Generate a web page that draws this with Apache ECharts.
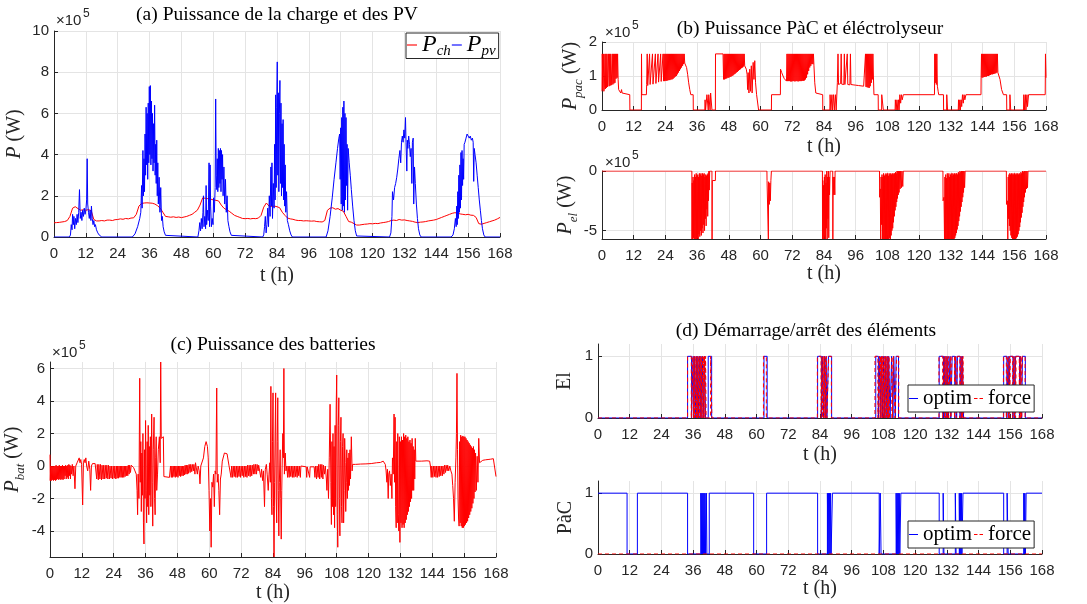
<!DOCTYPE html>
<html><head><meta charset="utf-8">
<script src="https://cdn.jsdelivr.net/npm/echarts@6/dist/echarts.min.js"></script>
<style>html,body{margin:0;padding:0;background:#fff}#c{width:1087px;height:604px}</style>
</head><body><div id="c"></div><script>
// ---------- DATA ----------
const xTicks = [0,12,24,36,48,60,72,84,96,108,120,132,144,156,168];
const yTicksA = [0,2,4,6,8,10];
const yTicksPac = [0,1,2];
const yTicksEl = [-5,0];
const yTicksBat = [-4,-2,0,2,4,6];
const yTicksState = [0,1];
// (a) load power, hourly t = 0..168 (x1e5 W)
const pchHourly = [0.69,0.70,0.71,0.73,0.75,0.80,1.0,1.40,1.47,1.38,1.30,1.32,1.30,1.33,1.28,0.85,0.78,0.78,0.80,0.78,0.82,0.82,0.80,0.84,
0.85,0.88,0.86,0.90,0.88,0.92,0.93,1.1,1.5,1.63,1.65,1.66,1.65,1.64,1.60,1.52,1.40,1.20,1.0,0.98,0.96,0.98,0.95,0.97,
0.94,0.97,1.0,1.05,1.10,1.20,1.30,1.55,1.90,1.88,1.86,1.84,1.80,1.78,1.75,1.55,1.40,1.32,1.25,1.15,1.05,1.0,0.95,0.90,
0.89,0.90,0.88,0.90,0.89,0.92,1.05,1.45,1.65,1.50,1.48,1.50,1.47,1.42,1.20,1.05,0.92,0.88,0.86,0.82,0.80,0.80,0.78,0.79,
0.78,0.77,0.78,0.75,0.74,0.73,0.80,1.30,1.40,1.42,1.35,1.38,1.30,1.25,1.0,0.75,0.72,0.65,0.58,0.58,0.60,0.62,0.63,0.65,
0.64,0.66,0.65,0.68,0.70,0.72,0.75,0.80,0.82,0.80,0.85,0.82,0.83,0.80,0.78,0.76,0.72,0.70,0.72,0.73,0.75,0.78,0.80,0.82,
0.85,0.90,0.95,1.0,1.05,1.10,1.15,1.18,1.16,1.12,1.10,1.08,1.10,1.06,1.05,0.95,0.65,0.62,0.66,0.70,0.74,0.78,0.82,0.88,0.95];
// (a) PV power [t, x1e5 W]
const ppv = [[0,0],[5.8,0],[6.2,0.1],[6.5,0.6],[6.8,0.35],[7.0,1.1],[7.3,0.6],[7.5,1.0],[7.8,0.4],[8.1,0.9],[8.4,0.6],[8.7,1.1],[9.0,0.7],[9.3,1.2],[9.6,2.3],[9.9,0.9],[10.2,1.2],[10.5,0.8],[10.8,1.3],[11.1,1.0],[11.4,1.4],[11.7,1.1],[12.0,1.3],[12.3,1.8],[12.5,3.8],[12.7,1.6],[13.0,1.2],[13.3,0.9],[13.6,1.3],[13.9,0.8],[14.1,1.5],[14.4,0.9],[14.7,0.6],[15.0,0.8],[15.3,0.5],[15.6,0.6],[16.0,0.35],[16.5,0.2],[17.0,0.1],[17.5,0.03],[18,0],
[29.5,0],[30.5,0.15],[31.5,0.5],[32.3,0.9],[32.7,1.2],[33.0,2.5],[33.2,1.4],[33.5,4.2],[33.7,2.0],[33.9,3.8],[34.1,2.2],[34.3,5.0],[34.5,3.0],[34.7,6.3],[34.9,3.5],[35.1,6.0],[35.3,2.8],[35.5,6.5],[35.7,3.6],[35.9,7.3],[36.1,4.0],[36.3,7.35],[36.5,3.5],[36.7,6.6],[36.9,3.8],[37.1,6.0],[37.3,3.2],[37.5,5.5],[37.7,3.6],[37.9,6.4],[38.1,3.0],[38.3,4.5],[38.5,2.6],[38.7,4.7],[38.9,2.0],[39.1,3.6],[39.3,1.6],[39.6,2.9],[39.9,1.2],[40.2,2.4],[40.5,0.8],[40.8,1.0],[41.1,0.5],[41.5,0.25],[42.0,0.08],[42.5,0],
[54.2,0],[54.6,0.3],[54.9,0.7],[55.2,0.3],[55.5,0.9],[55.8,0.4],[56.1,1.2],[56.3,2.0],[56.5,0.5],[56.8,1.0],[57.1,0.4],[57.3,2.5],[57.5,0.6],[57.8,1.3],[58.1,0.8],[58.4,3.6],[58.6,0.5],[58.8,3.5],[59.0,1.5],[59.3,0.5],[59.6,0.9],[59.9,0.6],[60.1,1.9],[60.4,1.2],[60.7,2.4],[60.9,6.7],[61.1,3.0],[61.3,2.3],[61.5,3.8],[61.7,2.2],[61.9,4.3],[62.1,2.4],[62.3,4.2],[62.5,2.6],[62.7,4.3],[62.9,2.2],[63.1,4.2],[63.3,2.8],[63.5,4.0],[63.7,2.0],[64.0,3.4],[64.3,1.6],[64.6,2.8],[64.9,1.2],[65.2,2.0],[65.5,0.8],[65.9,0.5],[66.3,0.25],[66.8,0.08],[67.3,0],
[78.6,0],[79.0,0.1],[79.3,0.5],[79.6,1.0],[79.9,0.2],[80.2,0.6],[80.5,1.4],[80.8,0.5],[81.1,2.0],[81.4,1.0],[81.7,3.4],[81.9,1.5],[82.1,3.6],[82.3,0.9],[82.6,2.6],[82.9,1.4],[83.1,4.5],[83.3,1.8],[83.5,6.9],[83.7,2.4],[83.9,6.3],[84.1,8.5],[84.3,3.0],[84.5,7.0],[84.7,2.2],[84.9,6.0],[85.1,7.6],[85.3,2.6],[85.5,6.5],[85.7,2.0],[85.9,5.5],[86.1,2.4],[86.3,5.7],[86.5,1.8],[86.7,4.5],[86.9,1.5],[87.1,3.5],[87.3,1.2],[87.6,2.2],[87.9,0.8],[88.3,0.6],[88.8,0.3],[89.3,0.1],[89.8,0],
[102.5,0],[103.2,0.3],[104.0,1.0],[104.8,1.9],[105.5,2.8],[106.2,3.6],[106.8,4.3],[107.3,4.8],[107.6,5.0],[107.8,2.8],[108.0,5.3],[108.2,1.6],[108.4,5.8],[108.6,1.3],[108.8,6.3],[109.0,1.5],[109.2,6.6],[109.4,1.2],[109.6,6.0],[109.8,1.8],[110.0,5.8],[110.2,2.5],[110.4,4.5],[110.6,1.3],[110.8,4.3],[111.2,3.6],[111.6,3.0],[112.0,2.3],[112.5,1.5],[113.0,0.8],[113.5,0.3],[114.0,0.05],[114.4,0],
[126.4,0],[126.9,0.2],[127.3,1.0],[127.5,2.2],[127.9,1.8],[128.3,2.4],[128.7,2.6],[129.1,2.9],[129.5,3.3],[129.9,3.8],[130.3,4.2],[130.6,3.6],[130.9,4.6],[131.2,4.9],[131.5,4.6],[131.8,5.2],[132.1,4.8],[132.4,5.8],[132.6,4.6],[132.9,3.2],[133.1,4.7],[133.3,4.3],[133.6,4.9],[133.9,4.5],[134.2,3.9],[134.5,4.3],[134.8,2.6],[135.0,4.6],[135.3,4.8],[135.5,1.6],[135.8,3.4],[136.1,2.6],[136.5,1.6],[136.9,0.9],[137.3,0.4],[137.8,0.1],[138.3,0],
[149.6,0],[150.3,0.1],[150.8,0.4],[151.2,0.9],[151.5,0.5],[151.7,1.5],[151.9,0.6],[152.1,2.2],[152.3,0.9],[152.5,3.0],[152.7,1.2],[152.9,3.5],[153.1,1.4],[153.3,4.1],[153.5,1.8],[153.7,4.2],[153.9,2.5],[154.1,3.8],[154.3,2.8],[154.5,4.5],[154.8,4.6],[155.2,4.8],[155.6,5.0],[156.0,4.9],[156.4,4.8],[156.8,4.9],[157.2,4.7],[157.6,4.8],[157.9,4.6],[158.1,2.7],[158.3,4.3],[158.6,4.0],[159.0,3.6],[159.4,3.0],[159.8,2.4],[160.2,1.8],[160.6,1.3],[161.0,0.8],[161.4,0.4],[161.9,0.1],[162.4,0],[168,0]];
// (b) fuel-cell power [t, x1e5 W]
const ppac = [[0,0.55],[0.1,1.65],[0.3,0.6],[0.5,1.65],[0.7,0.55],[0.9,0.65],[1.1,1.65],[1.3,0.62],[1.5,1.65],[1.7,0.65],[1.9,1.65],[2.1,0.68],[2.3,0.7],[2.5,1.65],[2.7,0.7],[2.9,1.65],[3.1,0.72],[3.3,1.65],[3.5,0.73],[3.7,0.74],[3.9,1.65],[4.1,0.75],[4.3,1.65],[4.5,0.78],[4.7,1.65],[4.9,0.8],[5.1,1.65],[5.3,0.92],[5.5,1.65],[5.7,0.95],[5.9,1.65],[6.1,0.9],[6.3,0.6],[6.6,0.55],[6.9,0.62],[7.1,0.5],[7.4,0.6],[7.6,0.5],[7.9,0.45],[10.5,0.45],[10.55,0],[14.9,0],[14.95,1.65],[15.05,0.45],[16.8,0.45],
[16.9,0.75],[17.1,1.65],[17.3,0.72],[17.8,0.75],[18.0,1.65],[18.2,0.75],[18.9,0.78],[19.1,1.65],[19.3,0.76],[20.0,0.8],[20.2,1.65],[20.4,0.78],[21.0,0.8],[21.2,1.65],[21.4,0.82],[22.0,0.8],[22.2,1.65],[22.4,0.84],[22.9,0.85],[23.1,1.65],[23.3,0.85],[23.5,1.65],[23.7,0.85],[23.9,1.65],[24.1,0.86],[24.3,1.65],[24.5,0.86],[24.7,1.65],[24.9,0.87],[25.1,1.65],[25.3,0.88],[25.5,1.65],[25.7,0.88],[25.9,1.65],[26.1,0.9],[26.3,1.65],[26.5,0.9],[26.7,1.65],[26.9,0.92],[27.1,1.65],[27.3,0.95],[27.5,1.65],[27.7,0.98],[27.9,1.65],[28.1,1.0],[28.3,1.65],[28.5,1.05],[28.7,1.65],[28.9,1.1],[29.1,1.65],[29.3,1.15],[29.5,1.65],[29.7,1.2],[29.9,1.65],[30.1,1.25],[30.3,1.65],[30.5,1.3],[30.7,1.65],[30.9,1.35],[31.1,1.65],[31.3,1.38],[31.6,1.4],[32.0,1.25],[32.4,1.05],[32.8,0.8],[33.2,0.6],[33.6,0.45],[34.5,0.45],[34.55,0],[38.9,0],[39.0,0.3],[39.2,0],[39.6,0],[39.7,0.45],[40.0,0.5],[40.2,0],[40.4,0.45],[40.7,0.5],[40.9,0],[41.1,0.5],[41.4,0.45],[41.6,0],[42.9,0],[42.95,1.65],[45.8,1.65],
[46.0,0.9],[46.2,1.65],[46.4,0.9],[46.6,1.65],[46.8,0.92],[47.0,1.65],[47.2,0.93],[47.4,1.65],[47.6,0.95],[47.8,1.65],[48.0,0.95],[48.2,1.65],[48.4,0.97],[48.6,1.65],[48.8,0.98],[49.0,1.65],[49.2,1.0],[49.4,1.65],[49.6,1.02],[49.8,1.65],[50.0,1.05],[50.2,1.65],[50.4,1.07],[50.6,1.65],[50.8,1.1],[51.0,1.65],[51.2,1.12],[51.4,1.65],[51.6,1.15],[51.8,1.65],[52.0,1.18],[52.2,1.65],[52.4,1.2],[52.6,1.65],[52.8,1.23],[53.0,1.65],[53.2,1.25],[53.4,1.65],[53.6,1.28],[53.8,1.65],[54.0,1.3],[54.3,1.3],[54.6,1.2],[54.9,1.05],[55.1,0.6],[55.3,1.1],[55.6,0.5],[55.9,1.2],[56.2,0.55],[56.5,1.3],[56.8,0.5],[57.2,1.4],[57.5,0.9],[57.8,1.45],[58.1,0.8],[58.5,0.45],[59.2,0.45],[59.25,0],[64.1,0],[64.15,0.45],[67.5,0.45],[67.55,1.2],[68.0,1.1],[68.5,1.0],[69.0,0.92],[69.5,0.87],[69.8,0.85],
[70.0,1.65],[70.2,0.85],[70.4,1.65],[70.6,0.85],[70.8,1.65],[71.0,0.85],[71.2,1.65],[71.4,0.84],[71.6,1.65],[71.8,0.84],[72.0,1.65],[72.2,0.85],[72.4,1.65],[72.6,0.85],[72.8,1.65],[73.0,0.84],[73.2,1.65],[73.4,0.85],[73.6,1.65],[73.8,0.85],[74.0,1.65],[74.2,0.84],[74.4,1.65],[74.6,0.85],[74.8,1.65],[75.0,0.85],[75.2,1.65],[75.4,0.85],[75.6,1.65],[75.8,0.86],[76.0,1.65],[76.2,0.86],[76.4,1.65],[76.6,0.87],[76.8,1.65],[77.0,0.9],[77.2,1.65],[77.4,0.95],[77.6,1.65],[77.8,1.05],[78.0,1.65],[78.2,1.15],[78.4,1.65],[78.6,1.25],[78.8,1.65],[79.0,1.3],[79.2,1.65],[79.4,1.35],[79.6,1.65],[79.8,1.35],[80.0,1.65],[80.2,1.3],[80.5,0.8],[80.9,0.5],[81.2,0.45],[83.5,0.45],[83.55,0],[86.2,0],[86.3,0.45],[86.6,0],[87.0,0.45],[87.2,0],[87.6,0.45],[87.9,0],[88.3,0.45],[88.6,0],[89.0,0],
[89.05,0.8],[89.3,1.65],[89.5,0.75],[90.3,0.78],[90.5,1.65],[90.7,0.76],[91.5,0.75],[91.7,1.65],[91.9,0.75],[92.6,0.76],[92.8,1.65],[93.0,0.75],[93.8,0.74],[94.0,1.65],[94.2,0.75],[95.0,0.74],[96.0,0.73],[97.0,0.72],[98.0,0.71],[99.0,0.7],[99.5,0.68],[99.7,1.65],[99.9,0.68],[100.1,1.65],[100.3,0.67],[100.5,1.65],[100.7,0.66],[100.9,1.65],[101.1,0.65],[101.3,1.65],[101.5,0.7],[101.7,1.65],[101.9,0.8],[102.1,1.65],[102.3,0.9],[102.5,1.65],[102.7,1.0],[102.9,0.45],[104.5,0.45],[104.55,0],[105.8,0],[105.85,0.45],[106.4,0.45],[106.45,0],[110.9,0],[111.0,0.3],[111.3,0],[111.6,0.3],[111.9,0],[112.2,0.3],[112.4,0],[112.7,0.45],[113.0,0.2],[113.3,0.45],[113.6,0.3],[114.0,0.45],[125.8,0.45],
[125.9,1.65],[126.1,0.8],[126.3,1.65],[126.5,0.75],[126.7,1.65],[126.9,0.7],[127.2,0.55],[127.4,0.45],[129.2,0.45],[129.25,0],[130.4,0],[130.45,0.45],[130.7,0.45],[130.75,0],[134.8,0],[134.9,0.3],[135.1,0],[135.4,0.3],[135.6,0],[135.9,0.3],[136.1,0.1],[136.4,0.45],[136.7,0.2],[137.0,0.45],[137.3,0.3],[137.7,0.45],[143.4,0.45],
[143.45,0.95],[143.6,1.65],[143.8,0.95],[144.0,1.65],[144.2,0.96],[144.4,1.65],[144.6,0.97],[144.8,1.65],[145.0,0.98],[145.2,1.65],[145.4,0.98],[145.6,1.65],[145.8,1.0],[146.0,1.65],[146.2,1.0],[146.4,1.65],[146.6,1.02],[146.8,1.65],[147.0,1.03],[147.2,1.65],[147.4,1.05],[147.6,1.65],[147.8,1.05],[148.0,1.65],[148.2,1.06],[148.4,1.65],[148.6,1.07],[148.8,1.65],[149.0,1.08],[149.2,1.65],[149.4,1.1],[149.6,1.65],[149.8,1.1],[150.2,1.1],[150.6,0.9],[151.2,0.6],[151.9,0.45],[153.1,0.45],[153.15,0],[154.3,0],[154.35,0.45],[154.6,0.45],[154.65,0],[159.5,0],[159.6,0.45],[159.8,0],[160.2,0.45],[160.4,0],[160.8,0.45],[161.0,0.1],[161.4,0.45],[161.8,0.45],[167.7,0.45],[167.8,1.65],[168,0.95]];
// (b) electrolyser power [t, x1e5 W]
const pel = [[0,0],[34.0,0],[34.05,-5.7],[34.15,-1.0],[34.3,-5.7],[34.45,-0.5],[34.6,-5.6],[34.75,-0.8],[34.9,-5.7],[35.05,-0.3],[35.2,-5.7],[35.35,-0.5],[35.5,-5.7],[35.65,-0.2],[35.8,-5.7],[35.95,-0.4],[36.1,-5.6],[36.25,-0.3],[36.4,-5.7],[36.55,-0.5],[36.7,-5.3],[36.85,-0.2],[37.0,-5.5],[37.15,-0.3],[37.3,-5.0],[37.45,-0.2],[37.6,-5.4],[37.75,-0.4],[37.9,-4.8],[38.05,-0.2],[38.2,-5.2],[38.35,-0.3],[38.5,-4.5],[38.65,-0.2],[38.8,-5.0],[38.95,-0.5],[39.1,-4.0],[39.25,-0.3],[39.4,-4.6],[39.55,-0.4],[39.7,-3.2],[39.85,-0.3],[40.0,-3.8],[40.15,-0.2],[40.3,-2.5],[40.45,0],[40.6,-1.6],[40.75,0],[41.6,0],[41.65,-5.7],[41.75,-0.8],[42.9,-0.8],[42.95,0],
[62.4,0],[62.45,-0.8],[62.9,-0.8],[62.95,-5.7],[63.05,-0.9],[63.3,-2.8],[63.5,-1.0],[63.7,-2.5],[63.9,-0.8],[64.1,0],
[83.4,0],[83.45,-5.7],[83.55,-0.8],[83.7,-5.7],[83.85,-1.2],[84.0,-5.7],[84.15,-0.5],[84.3,-5.5],[84.45,-0.3],[84.6,-5.7],[84.75,-1.0],[84.9,-4.8],[85.05,0],[85.2,-5.7],[85.35,-0.5],[85.5,-4.0],[85.65,0],[85.8,-5.6],[85.95,-0.5],[86.1,-2.0],[86.3,0],[87.3,0],[87.35,-5.7],[87.45,-0.5],[87.7,-2.0],[87.9,-0.5],[88.1,-2.0],[88.2,0],
[105.0,0],[105.05,-2.2],[105.3,-1.5],[105.45,-5.7],[105.6,-0.5],[105.8,-4.5],[105.95,-0.3],[106.1,-5.7],[106.25,-0.5],[106.4,-5.7],[106.55,-0.2],[106.7,-5.7],[106.85,-0.4],[107.0,-5.7],[107.15,-0.3],[107.3,-5.7],[107.45,-0.2],[107.6,-5.7],[107.75,-0.3],[107.9,-5.7],[108.05,-0.2],[108.2,-5.7],[108.35,-0.4],[108.5,-5.7],[108.65,-0.2],[108.8,-5.6],[108.95,-0.3],[109.1,-5.7],[109.25,-0.2],[109.4,-5.4],[109.55,-0.3],[109.7,-5.0],[109.85,-0.2],[110.0,-4.8],[110.15,-0.3],[110.3,-4.3],[110.45,-0.2],[110.6,-3.8],[110.75,-0.2],[110.9,-3.3],[111.05,-0.1],[111.2,-3.0],[111.35,-0.2],[111.5,-2.6],[111.65,0],[111.8,-2.3],[111.95,0],[112.1,-2.0],[112.25,0],[112.4,-1.8],[112.55,0],[112.8,-1.5],[113.0,0],[113.3,-1.4],[113.5,0],[113.8,-1.3],[114.0,0],
[129.0,0],[129.05,-2.5],[129.4,-2.2],[129.6,-5.7],[129.75,-0.5],[129.9,-5.7],[130.05,-0.3],[130.2,-5.7],[130.35,-0.6],[130.5,-5.7],[130.65,-0.2],[130.8,-5.7],[130.95,-0.4],[131.1,-5.7],[131.25,-0.2],[131.4,-5.7],[131.55,-0.5],[131.7,-5.7],[131.85,-0.3],[132.0,-5.7],[132.15,-0.2],[132.3,-5.7],[132.45,-0.4],[132.6,-5.7],[132.75,-0.2],[132.9,-5.7],[133.05,-0.3],[133.2,-5.7],[133.35,-0.2],[133.5,-5.6],[133.65,-0.3],[133.8,-5.4],[133.95,-0.2],[134.1,-5.2],[134.25,-0.2],[134.4,-4.9],[134.55,-0.3],[134.7,-4.6],[134.85,-0.1],[135.0,-4.2],[135.15,-0.2],[135.3,-3.8],[135.45,0],[135.6,-3.4],[135.75,-0.1],[135.9,-3.0],[136.05,0],[136.2,-2.6],[136.35,0],[136.5,-2.2],[136.65,0],[136.8,-1.8],[137.0,0],[137.2,-1.4],[137.4,0],
[153.0,0],[153.05,-2.8],[153.4,-2.5],[153.55,-5.7],[153.7,-0.5],[153.85,-4.0],[154.0,-0.3],[154.15,-4.6],[154.3,-0.2],[154.45,-5.0],[154.6,-0.3],[154.75,-5.4],[154.9,-0.2],[155.05,-5.6],[155.2,-0.3],[155.35,-5.7],[155.5,-0.2],[155.65,-5.7],[155.8,-0.3],[155.95,-5.7],[156.1,-0.2],[156.25,-5.7],[156.4,-0.3],[156.55,-5.7],[156.7,-0.2],[156.85,-5.6],[157.0,-0.3],[157.15,-5.5],[157.3,-0.2],[157.45,-5.3],[157.6,-0.3],[157.75,-5.0],[157.9,-0.2],[158.05,-4.7],[158.2,-0.3],[158.35,-4.3],[158.5,-0.1],[158.65,-3.9],[158.8,-0.2],[158.95,-3.5],[159.1,0],[159.25,-3.0],[159.4,-0.1],[159.55,-2.6],[159.7,0],[159.85,-2.2],[160.0,0],[160.2,-1.8],[160.4,0],[160.6,-1.5],[160.8,0],[161.0,-1.4],[161.2,0],[168,0]];
// (c) battery power [t, x1e5 W]
const pbat = [[0,0.7],[0.1,-0.9],[0.3,0],[0.5,-0.9],[0.7,0],[0.9,-0.85],[1.1,0],[1.3,-0.9],[1.5,0],[1.7,-0.85],[1.9,0],[2.1,-0.9],[2.3,0.05],[2.5,-0.85],[2.7,0],[2.9,-0.8],[3.1,0],[3.3,-0.85],[3.5,0.05],[3.7,-0.8],[3.9,0],[4.1,-0.85],[4.3,0],[4.5,-0.8],[4.7,0.05],[4.9,-0.85],[5.1,0],[5.3,-0.8],[5.5,0],[5.7,-0.6],[5.9,0.05],[6.1,-0.8],[6.3,0],[6.5,-0.7],[6.7,0.05],[6.9,-0.8],[7.1,0.1],[7.3,-0.6],[7.5,0.05],[7.7,-0.8],[7.9,0],[8.1,-0.5],[8.4,0.1],[8.7,-0.6],[9.0,0],[9.4,-1.4],[9.7,0],[10.2,0.2],[10.6,0.3],[11.0,0.5],[11.3,0.2],[11.6,0.4],[11.9,0.1],[12.3,-2.4],[12.6,0.2],[12.9,0.4],[13.2,0.2],[13.5,0.5],[13.8,0],[14.2,-0.3],[14.6,0.3],[15.0,-0.2],[15.3,-1.5],[15.6,0],[16.0,0.15],[16.5,0.1],[17.0,0.15],[17.4,0.1],[17.6,-0.8],[17.8,0.1],[18.2,-0.85],[18.4,0.1],[18.8,-0.8],[19.0,0.1],[19.4,-0.85],[19.6,0.05],[20.0,-0.8],[20.2,0.05],[20.6,-0.8],[20.8,0.05],[21.2,-0.75],[21.4,0.05],[21.8,-0.8],[22.0,0.05],[22.4,-0.8],[22.6,0],[23.0,-0.75],[23.2,0],[23.6,-0.8],[23.8,0],[24.2,-0.75],[24.4,0],[24.8,-0.8],[25.0,0],[25.3,-0.75],[25.5,0],[25.8,-0.75],[26.0,0],[26.3,-0.7],[26.5,0],[26.8,-0.7],[27.0,0],[27.3,-0.7],[27.5,0],[27.8,-0.7],[28.0,0],[28.3,-0.65],[28.5,0],[28.8,-0.6],[29.0,0],[29.3,-0.6],[29.5,0.05],[29.8,-0.5],[30.0,0.05],[30.3,-0.4],[30.6,0.05],[31.0,0],[31.5,-0.1],[32.0,-0.3],[32.5,-0.5],[32.8,-1.5],[33.0,-3.0],[33.2,-0.5],[33.5,-2.0],[33.8,5.4],[34.0,-1.0],[34.2,1.5],[34.4,-2.8],[34.6,0.8],[34.8,-1.8],[35.0,2.0],[35.2,-3.5],[35.4,-4.8],[35.6,1.0],[35.8,-2.0],[36.0,2.8],[36.2,-1.5],[36.4,-3.5],[36.6,1.5],[36.8,-2.5],[37.0,2.5],[37.2,-3.0],[37.4,1.2],[37.6,-1.8],[37.8,1.8],[38.0,-2.5],[38.3,3.2],[38.5,-1.0],[38.7,-3.7],[38.9,1.0],[39.2,3.0],[39.4,-2.0],[39.6,-3.0],[39.8,0.5],[40.0,1.8],[40.2,-1.5],[40.5,-0.5],[40.8,1.0],[41.2,1.8],[41.5,0.2],[41.7,6.4],[41.9,1.7],[42.3,1.7],[42.7,1.8],[42.9,-0.65],[45.0,-0.7],[45.4,0],
[45.7,-0.7],[45.9,0],[46.2,-0.7],[46.4,0],[46.7,-0.65],[46.9,0],[47.2,-0.7],[47.4,0],[47.7,-0.65],[47.9,0],[48.2,-0.7],[48.4,0],[48.7,-0.6],[48.9,0],[49.2,-0.65],[49.4,0],[49.7,-0.6],[49.9,0],[50.2,-0.6],[50.4,0],[50.7,-0.55],[50.9,0.05],[51.2,-0.5],[51.4,0.05],[51.7,-0.5],[51.9,0.05],[52.2,-0.45],[52.4,0.1],[52.8,-0.4],[53.0,0.1],[53.4,-0.35],[53.6,0.1],[54.0,-0.3],[54.2,0.1],[54.6,-0.5],[54.8,0.2],[55.2,0.1],[55.5,-0.5],[55.8,0],[56.2,-0.3],[56.5,-1.1],[56.8,0],[57.3,0.1],[57.8,0.5],[58.3,1.2],[58.8,1.5],[59.3,1.2],[59.6,0.5],[59.9,-1.5],[60.2,-4.0],[60.5,-2.0],[60.7,-5.0],[61.0,-1.0],[61.3,-1.3],[61.6,-0.5],[61.9,-2.5],[62.2,-0.3],[62.5,-0.5],[62.8,4.8],[63.0,-1.0],[63.3,-0.5],[63.6,-1.5],[63.9,-3.0],[64.2,-0.8],[64.5,-0.5],[64.9,0.3],[65.3,0.2],[65.7,0.8],[66.2,0.8],[66.7,0.75],[67.1,0.7],[67.4,0.05],[67.8,0],
[68.2,-0.7],[68.4,0],[68.8,-0.7],[69.0,0],[69.4,-0.65],[69.6,0],[70.0,-0.7],[70.2,0],[70.6,-0.7],[70.8,0],[71.2,-0.65],[71.4,0],[71.8,-0.7],[72.0,0],[72.4,-0.6],[72.6,0],[73.0,-0.7],[73.2,0],[73.6,-0.65],[73.8,0],[74.2,-0.7],[74.4,0.05],[74.8,-0.6],[75.0,0.05],[75.4,-0.65],[75.6,0.05],[76.0,-0.6],[76.2,0.05],[76.6,-0.5],[76.8,0.1],[77.2,-0.5],[77.4,0.1],[77.8,-0.5],[78.0,0.1],[78.4,-0.3],[78.6,0.05],[79.0,0],[79.4,-0.7],[79.7,-0.2],[80.1,-0.9],[80.4,-0.3],[80.8,-2.5],[81.1,-0.2],[81.5,0.1],[81.8,-0.5],[82.2,-1.5],[82.5,-0.5],[82.8,0.2],[83.0,-1.0],[83.2,4.9],[83.4,-2.0],[83.6,-3.0],[83.8,1.5],[84.0,4.5],[84.2,-2.5],[84.4,-5.6],[84.6,-1.0],[84.8,2.0],[85.0,4.5],[85.2,-2.0],[85.4,-3.5],[85.6,1.5],[85.8,4.2],[86.0,-1.5],[86.2,-4.3],[86.4,-1.0],[86.7,1.0],[86.9,-2.0],[87.1,-4.5],[87.3,-1.5],[87.5,0.5],[87.7,2.0],[87.9,0.5],[88.1,6.0],[88.3,-0.5],[88.6,0.8],[88.9,-0.3],[89.2,0],
[89.5,-0.7],[89.7,0],[90.1,-0.7],[90.3,0],[90.7,-0.65],[90.9,0],[91.3,-0.7],[91.5,0],[91.9,-0.7],[92.1,0],[92.5,-0.65],[92.7,0],[93.1,-0.7],[93.3,0],[93.7,-0.6],[93.9,0],[94.3,-0.7],[94.5,0],[95.0,-0.05],[96.5,-0.05],[96.7,-0.7],[96.9,-0.05],[97.8,-0.7],[98.0,-0.05],[99.5,-0.05],[99.8,-0.7],[100.0,0],[100.4,-0.8],[100.6,0],[101.0,-0.7],[101.2,0.1],[101.6,-0.8],[101.8,0.1],[102.2,-0.7],[102.4,0.1],[102.8,-0.8],[103.0,0.05],[103.4,-0.5],[103.7,0],[104.1,-0.8],
[104.3,-1.5],[104.6,-0.2],[104.9,-2.0],[105.2,0.5],[105.5,3.8],[105.8,-1.0],[106.0,-3.6],[106.2,1.5],[106.4,-2.5],[106.6,2.0],[106.8,-3.0],[107.0,1.2],[107.2,-3.8],[107.4,2.5],[107.6,-2.5],[107.8,3.5],[108.0,5.6],[108.2,-3.0],[108.4,-5.0],[108.6,2.5],[108.8,4.2],[109.0,-2.0],[109.2,-4.3],[109.4,1.5],[109.6,3.0],[109.8,-2.5],[110.0,-3.5],[110.2,1.2],[110.4,2.0],[110.6,-3.5],[110.8,-1.5],[111.0,1.7],[111.2,0.2],[111.4,-2.8],[111.6,-1.0],[111.8,1.0],[112.0,-2.0],[112.2,0.5],[112.4,-1.5],[112.6,0.8],[112.8,-1.2],[113.0,1.0],[113.2,-0.8],[113.5,1.8],[113.8,-0.3],[114.0,0.1],
[115,0.1],[117,0.12],[119,0.13],[121,0.15],[123,0.2],[124.5,0.22],[125.5,0.3],[126.0,0.25],[126.3,0.1],[126.6,-0.3],[126.9,-1.0],[127.1,-0.2],[127.4,-2.0],[127.6,-0.5],[127.9,-0.3],[128.2,-1.2],[128.5,-0.5],[128.8,-2.0],[129.0,0.5],[129.3,-0.5],[129.6,3.2],[129.8,-1.0],[130.0,3.0],[130.2,-2.5],[130.4,-3.8],[130.6,1.5],[130.8,-3.5],[131.0,2.0],[131.2,-3.0],[131.4,-4.0],[131.6,1.8],[131.8,-4.7],[132.0,1.5],[132.2,-3.5],[132.4,1.8],[132.6,-3.8],[132.8,1.6],[133.0,-3.6],[133.2,2.0],[133.4,-3.8],[133.6,1.8],[133.8,-3.5],[134.0,1.9],[134.2,-3.3],[134.4,1.7],[134.6,-3.0],[134.8,1.8],[135.0,-2.8],[135.2,1.5],[135.4,-2.5],[135.6,1.6],[135.8,-2.2],[136.0,1.4],[136.2,-2.0],[136.4,1.7],[136.6,-1.5],[136.8,1.2],[137.0,-1.5],[137.2,1.0],[137.4,-0.8],[137.6,1.7],[137.8,0.3],[138.2,0.3],[140,0.3],[142,0.32],[143.0,0.3],[143.3,0],
[143.6,-0.7],[143.8,0],[144.2,-0.7],[144.4,0],[144.8,-0.65],[145.0,0],[145.4,-0.7],[145.6,0],[146.0,-0.7],[146.2,0],[146.6,-0.65],[146.8,0],[147.2,-0.6],[147.4,0],[147.8,-0.6],[148.0,0],[148.4,-0.5],[148.6,0.05],[149.0,-0.4],[149.2,0.05],[149.6,-0.3],[149.8,0.05],[150.2,-0.3],[150.6,0],[151.0,-0.3],[151.4,-0.5],[151.7,-1.2],[152.0,-2.0],[152.3,-3.4],[152.6,-1.0],[152.9,0.5],[153.1,2.0],[153.3,5.7],[153.5,1.0],[153.7,-2.0],[153.9,-3.2],[154.1,-3.7],[154.3,1.5],[154.5,-3.5],[154.7,1.9],[154.9,-3.7],[155.1,1.8],[155.3,-3.8],[155.5,1.85],[155.7,-3.8],[155.9,1.8],[156.1,-3.7],[156.3,1.8],[156.5,-3.6],[156.7,1.7],[156.9,-3.5],[157.1,1.6],[157.3,-3.4],[157.5,1.5],[157.7,-3.2],[157.9,1.4],[158.1,-3.0],[158.3,1.3],[158.5,-2.8],[158.7,1.2],[158.9,-2.6],[159.1,1.1],[159.3,-2.3],[159.5,1.2],[159.7,-2.0],[159.9,1.0],[160.1,-1.6],[160.3,0.8],[160.6,-1.5],[160.9,0.6],[161.2,-1.0],[161.5,1.7],[161.8,0.2],[162.1,0.3],[163,0.35],[164,0.38],[165,0.4],[166,0.42],[167,0.45],[167.6,0.4],[168,-0.65]];
// (d) on/off states (value held until next point)
const elOptim = [[0,0],[33.9,1],[35.4,0],[36.0,1],[36.3,0],[36.6,1],[37.0,0],[37.3,1],[37.5,0],[37.8,1],[38.1,0],[38.4,1],[38.7,0],[39.0,1],[39.3,0],[39.6,1],[40.0,0],[40.3,1],[40.7,0],[41.7,1],[43.0,0],[62.8,1],[64.0,0],[83.1,1],[84.6,0],[85.0,1],[85.3,0],[85.7,1],[86.0,0],[86.3,1],[86.6,0],[87.2,1],[88.4,0],[105.1,1],[106.1,0],[106.7,1],[107.0,0],[107.4,1],[107.7,0],[108.1,1],[108.3,0],[108.7,1],[109.0,0],[109.4,1],[109.7,0],[110.0,1],[110.5,0],[111.1,1],[111.6,0],[111.9,1],[112.5,0],[112.8,1],[113.7,0],[129.1,1],[130.7,0],[131.0,1],[131.3,0],[131.7,1],[132.0,0],[132.4,1],[132.6,0],[133.2,1],[133.5,0],[134.0,1],[135.0,0],[135.4,1],[135.7,0],[136.0,1],[137.0,0],[137.4,1],[137.6,0],[137.9,1],[138.3,0],[153.5,1],[154.7,0],[155.2,1],[155.5,0],[155.8,1],[157.0,0],[157.4,1],[157.7,0],[158.0,1],[159.5,0],[159.8,1],[160.3,0],[160.6,1],[161.7,0],[168,0]];
const elForce = [[0,0],[33.9,1],[35.3,0],[35.9,1],[36.1,0],[36.3,1],[36.5,0],[36.7,1],[36.9,0],[37.1,1],[37.3,0],[37.5,1],[37.7,0],[37.9,1],[38.1,0],[38.3,1],[38.5,0],[38.7,1],[38.9,0],[39.1,1],[39.3,0],[39.5,1],[39.7,0],[39.9,1],[40.1,0],[40.3,1],[40.5,0],[40.7,1],[40.9,0],[42.6,1],[43.1,0],[62.6,1],[63.7,0],[83.0,1],[84.4,0],[84.8,1],[85.0,0],[85.2,1],[85.4,0],[85.6,1],[85.8,0],[86.0,1],[86.2,0],[86.4,1],[86.6,0],[87.3,1],[88.3,0],[104.8,1],[105.9,0],[106.5,1],[106.7,0],[106.9,1],[107.1,0],[107.3,1],[107.5,0],[107.7,1],[107.9,0],[108.1,1],[108.3,0],[108.5,1],[108.7,0],[108.9,1],[109.1,0],[109.3,1],[109.5,0],[109.7,1],[109.9,0],[110.1,1],[110.3,0],[111.2,1],[111.4,0],[111.8,1],[112.4,0],[113.0,1],[113.8,0],[129.0,1],[130.4,0],[130.9,1],[131.1,0],[131.3,1],[131.5,0],[131.7,1],[131.9,0],[132.1,1],[132.3,0],[132.5,1],[132.7,0],[133.3,1],[133.5,0],[133.9,1],[134.9,0],[135.3,1],[135.5,0],[136.0,1],[136.9,0],[137.3,1],[137.5,0],[137.7,1],[137.9,0],[138.1,1],[138.4,0],[153.4,1],[154.5,0],[155.1,1],[155.3,0],[155.6,1],[155.8,0],[156.0,1],[156.9,0],[157.3,1],[157.5,0],[157.8,1],[158.0,0],[158.2,1],[159.4,0],[159.7,1],[159.9,0],[160.1,1],[160.3,0],[160.5,1],[161.6,0],[168,0]];
const pacOptim = [[0,1],[11.0,0],[14.9,1],[33.9,0],[38.9,1],[39.1,0],[39.3,1],[39.5,0],[39.7,1],[39.9,0],[40.1,1],[40.3,0],[40.5,1],[40.7,0],[41.0,1],[41.2,0],[42.1,1],[58.9,0],[63.8,1],[83.1,0],[86.8,1],[87.0,0],[87.2,1],[87.4,0],[87.6,1],[87.8,0],[88.0,1],[88.2,0],[88.7,1],[106.4,0],[106.8,1],[107.1,0],[112.8,1],[113.0,0],[113.2,1],[113.4,0],[113.6,1],[113.8,0],[114.0,1],[114.2,0],[114.6,1],[129.1,0],[130.6,1],[130.9,0],[135.2,1],[135.5,0],[136.7,1],[136.9,0],[137.1,1],[137.3,0],[137.5,1],[137.7,0],[138.1,1],[153.5,0],[154.8,1],[155.2,0],[161.1,1],[161.3,0],[161.5,1],[161.7,0],[162.0,1],[168,1]];
const pacForce = [[0,0],[168,0]];

// ---------- CHART ----------
const AX = '#262626', GRIDC = '#e4e4e4', RED = '#ff0000', BLUE = '#0000ff';
const SERIF = '"Liberation Serif","DejaVu Serif",serif';
const SANS = '"Liberation Sans",Arial,sans-serif';
const grids = [
  {left:54, top:31, width:446, height:206},
  {left:602, top:42, width:444, height:68},
  {left:602, top:171, width:444, height:68},
  {left:50, top:362, width:446, height:195},
  {left:598, top:344, width:444, height:74},
  {left:598, top:481, width:444, height:73}
].map(g => Object.assign({containLabel:false, outerBoundsMode:'none', show:false}, g));

function xAx(g, nameGap) {
  return {type:'value', gridIndex:g, min:0, max:168, interval:12,
    name:'t (h)', nameLocation:'middle', nameGap:nameGap,
    nameTextStyle:{fontFamily:SERIF, fontSize:20, color:AX},
    axisLine:{show:true, onZero:false, lineStyle:{color:AX, width:1}},
    axisTick:{show:true, inside:true, length:4, lineStyle:{color:AX}, customValues:xTicks},
    axisLabel:{fontFamily:SANS, fontSize:15, color:AX, margin:9, hideOverlap:false, customValues:xTicks},
    splitLine:{show:true, lineStyle:{color:GRIDC, width:1}}};
}
const richName = {
  i:{fontFamily:SERIF, fontStyle:'italic', fontSize:20, color:AX, lineHeight:28},
  s:{fontFamily:SERIF, fontStyle:'italic', fontSize:13, color:AX, verticalAlign:'bottom', lineHeight:28},
  n:{fontFamily:SERIF, fontSize:20, color:AX, lineHeight:28}
};
function yAx(g, min, max, ticks, name, nameGap) {
  return {type:'value', gridIndex:g, min:min, max:max,
    name:name, nameLocation:'middle', nameGap:nameGap, nameRotate:90,
    nameTextStyle:{fontFamily:SERIF, fontSize:20, color:AX, lineHeight:28, rich:richName},
    axisLine:{show:true, onZero:false, lineStyle:{color:AX, width:1}},
    axisTick:{show:true, inside:true, length:4, lineStyle:{color:AX}, customValues:ticks},
    axisLabel:{fontFamily:SANS, fontSize:15, color:AX, margin:5, hideOverlap:false, customValues:ticks},
    splitLine:{show:true, lineStyle:{color:GRIDC, width:1}}};
}
function ln(name, data, xi, color, extra) {
  return Object.assign({type:'line', name:name, data:data, xAxisIndex:xi, yAxisIndex:xi,
    showSymbol:false, symbol:'none', animation:false,
    lineStyle:{color:color, width:1}, itemStyle:{color:color}}, extra || {});
}
function expo(x, y) {
  return [
    {type:'text', x:x, y:y, style:{text:'×10', font:'15px '+SANS, fill:AX, verticalAlign:'middle', align:'left'}},
    {type:'text', x:x+27, y:y-7, style:{text:'5', font:'12px '+SANS, fill:AX, verticalAlign:'middle', align:'left'}}
  ];
}
function ttl(text, x, y) {
  return {type:'text', x:x, y:y, style:{text:text, font:'19.5px '+SERIF, fill:'#000', align:'center', verticalAlign:'middle'}};
}
const legRich = {
  i:{fontFamily:SERIF, fontStyle:'italic', fontSize:24, color:'#000', lineHeight:27},
  s:{fontFamily:SERIF, fontStyle:'italic', fontSize:15, color:'#000', verticalAlign:'bottom', lineHeight:27}
};
const SOLID_ICON = 'path://M0,0h9v1h-9z';
const DASH_ICON = 'path://M0,0h3.5v1h-3.5zM5.5,0h3.5v1h-3.5z';
const option = {
  backgroundColor:'#fff',
  animation:false,
  grid: grids,
  xAxis: [xAx(0,29), xAx(1,27), xAx(2,19), xAx(3,26), xAx(4,27), xAx(5,24)],
  yAxis: [
    yAx(0, 0, 10, yTicksA, '{i|P}{n| (W)}', 24),
    yAx(1, 0, 2, yTicksPac, '{i|P}{s|pac}{n| (W)}', 15),
    yAx(2, -5.7, 0, yTicksEl, '{i|P}{s|el}{n| (W)}', 18),
    yAx(3, -5.6, 6.4, yTicksBat, '{i|P}{s|bat}{n| (W)}', 23),
    yAx(4, 0, 1.2, yTicksState, '{n|El}', 19),
    yAx(5, 0, 1.2, yTicksState, '{n|PàC}', 18)
  ],
  legend: [
    {data:[{name:'P_ch', icon:SOLID_ICON},{name:'P_pv', icon:SOLID_ICON}], left:406, top:33, orient:'horizontal',
     itemWidth:10, itemHeight:1.2, itemGap:1, itemStyle:{borderWidth:0},
     padding:[0,3,0,1], borderColor:AX, borderWidth:1, backgroundColor:'#fff', selectedMode:false,
     formatter: n => n === 'P_ch' ? '{i|P}{s|ch}' : '{i|P}{s|pv}', textStyle:{rich:legRich}},
    {data:[{name:'optim', icon:SOLID_ICON},{name:'force', icon:DASH_ICON}], left:908, top:385, orient:'horizontal',
     itemWidth:9, itemHeight:1.2, itemGap:2, itemStyle:{borderWidth:0},
     padding:[3,3,3,1], borderColor:AX, borderWidth:1, backgroundColor:'#fff', selectedMode:false,
     textStyle:{fontFamily:SERIF, fontSize:21, color:'#000'}},
    {data:[{name:'optim', icon:SOLID_ICON},{name:'force', icon:DASH_ICON}], left:908, top:521, orient:'horizontal',
     itemWidth:9, itemHeight:1.2, itemGap:2, itemStyle:{borderWidth:0},
     padding:[3,3,3,1], borderColor:AX, borderWidth:1, backgroundColor:'#fff', selectedMode:false,
     textStyle:{fontFamily:SERIF, fontSize:21, color:'#000'}}
  ],
  graphic: [
    ttl('(a) Puissance de la charge et des PV', 277, 15),
    ttl('(b) Puissance PàC et éléctrolyseur', 810, 29),
    ttl('(c) Puissance des batteries', 273, 345),
    ttl('(d) Démarrage/arrêt des éléments', 806, 331)
  ].concat(expo(56, 21), expo(605, 33), expo(605, 163), expo(52, 353)),
  series: [
    ln('P_ch', pchHourly.map((v, i) => [i, v]), 0, RED),
    ln('P_pv', ppv, 0, BLUE),
    ln('Ppac', ppac, 1, RED),
    ln('Pel', pel, 2, RED),
    ln('Pbat', pbat, 3, RED),
    ln('optim', elOptim, 4, BLUE, {step:'end'}),
    ln('force', elForce, 4, RED, {step:'end', lineStyle:{color:RED, width:1, type:[4,3]}}),
    ln('optim', pacOptim, 5, BLUE, {step:'end'}),
    ln('force', pacForce, 5, RED, {step:'end', lineStyle:{color:RED, width:1, type:[4,3]}})
  ]
};
const chart = echarts.init(document.getElementById('c'), null, {renderer:'canvas'});
chart.setOption(option);
</script></body></html>
